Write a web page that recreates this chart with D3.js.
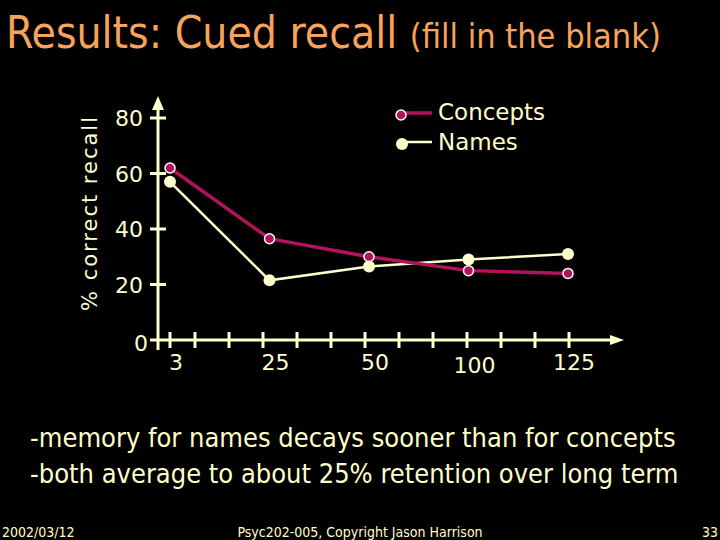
<!DOCTYPE html>
<html><head><meta charset="utf-8">
<script src="https://cdn.jsdelivr.net/npm/d3@7"></script>
<style>body{margin:0;background:#000}</style>
</head><body>
<div id="chart"></div>
<script>
var W = 720, H = 540
var categories = ["3", "25", "50", "100", "125"]
var concepts = [62, 36.5, 30, 25, 24]
var names = [57, 21.5, 26.5, 29, 31]
var yTicks = [20, 40, 60, 80]
var cream = "#ffffcc", red = "#b3125c", orange = "#f7a35a"

var svg = d3.select("#chart").append("svg")
    .attr("width", W).attr("height", H)
    .style("background", "#000")

var x = d3.scalePoint().domain(categories).range([170, 568])
var y = d3.scaleLinear().domain([0, 80]).range([340, 118])

// title
var title = svg.append("text").attr("x", 6).attr("y", 48)
    .attr("fill", orange).style("font-family", "DejaVu Sans Condensed")
title.append("tspan").attr("font-size", 44).text("Results: Cued recall ")
title.append("tspan").attr("font-size", 34).text("(fill in the blank)")

// axes
svg.append("line").attr("x1", 158).attr("x2", 158).attr("y1", 108).attr("y2", 350)
    .attr("stroke", cream).attr("stroke-width", 3)
svg.append("path").attr("d", "M158,96 L152,110 L164,110 Z").attr("fill", cream)
svg.append("line").attr("x1", 150).attr("x2", 612).attr("y1", y(0)).attr("y2", y(0))
    .attr("stroke", cream).attr("stroke-width", 3)
svg.append("path").attr("d", "M624," + y(0) + " L610," + (y(0) - 5) + " L610," + (y(0) + 5) + " Z").attr("fill", cream)

svg.selectAll(".yt").data(yTicks).enter().append("line")
    .attr("x1", 150).attr("x2", 166).attr("y1", d => y(d)).attr("y2", d => y(d))
    .attr("stroke", cream).attr("stroke-width", 3)
svg.selectAll(".yl").data([0].concat(yTicks)).enter().append("text")
    .attr("x", d => d === 0 ? 148 : 143).attr("y", d => d === 0 ? y(d) + 11 : y(d) + 8)
    .attr("text-anchor", "end").attr("fill", cream)
    .style("font-family", "DejaVu Sans").attr("font-size", 22).text(d => d)

// minor x ticks
var xt = [x("3")].concat(d3.range(13).slice(1).map(i => 195 + (i - 1) * 34))
svg.selectAll(".xt").data(xt).enter().append("line")
    .attr("x1", d => d).attr("x2", d => d).attr("y1", y(0) - 8).attr("y2", y(0) + 8)
    .attr("stroke", cream).attr("stroke-width", 3)
svg.selectAll(".xl").data(categories).enter().append("text")
    .attr("x", d => x(d) + 6).attr("y", (d, i) => i === 3 ? 373 : 370).attr("text-anchor", "middle")
    .attr("fill", cream).style("font-family", "DejaVu Sans").attr("font-size", 22).text(d => d)

svg.append("text").attr("transform", "translate(97,213) rotate(-90)")
    .attr("text-anchor", "middle").attr("fill", cream).attr("letter-spacing", 2)
    .style("font-family", "DejaVu Sans").attr("font-size", 21).text("% correct recall")

// series
var line = d3.line().x((d, i) => x(categories[i])).y(d => y(d))
svg.append("path").datum(names).attr("d", line).attr("fill", "none")
    .attr("stroke", cream).attr("stroke-width", 2.5)
svg.append("path").datum(concepts).attr("d", line).attr("fill", "none")
    .attr("stroke", red).attr("stroke-width", 3.5)
svg.selectAll(".cn").data(concepts).enter().append("circle")
    .attr("cx", (d, i) => x(categories[i])).attr("cy", d => y(d)).attr("r", 5)
    .attr("fill", red).attr("stroke", "#fff").attr("stroke-width", 1.5)
svg.selectAll(".nm").data(names).enter().append("circle")
    .attr("cx", (d, i) => x(categories[i])).attr("cy", d => y(d)).attr("r", 6)
    .attr("fill", cream)

// legend
svg.append("line").attr("x1", 402).attr("x2", 432).attr("y1", 113).attr("y2", 113)
    .attr("stroke", red).attr("stroke-width", 3.5)
svg.append("circle").attr("cx", 401).attr("cy", 115).attr("r", 5).attr("fill", red)
    .attr("stroke", "#fff").attr("stroke-width", 1.5)
svg.append("line").attr("x1", 402).attr("x2", 432).attr("y1", 142).attr("y2", 142)
    .attr("stroke", cream).attr("stroke-width", 2.5)
svg.append("circle").attr("cx", 402).attr("cy", 144).attr("r", 6).attr("fill", cream)
svg.append("text").attr("x", 438).attr("y", 120).attr("fill", cream)
    .style("font-family", "DejaVu Sans").attr("font-size", 23).text("Concepts")
svg.append("text").attr("x", 438).attr("y", 150).attr("fill", cream)
    .style("font-family", "DejaVu Sans").attr("font-size", 23).text("Names")

// notes
var notes = ["-memory for names decays sooner than for concepts",
    "-both average to about 25% retention over long term"]
svg.selectAll(".nt").data(notes).enter().append("text")
    .attr("x", 30).attr("y", (d, i) => 447 + i * 36).attr("fill", cream)
    .style("font-family", "DejaVu Sans Condensed").attr("font-size", 27).text(d => d)

// footer
var foot = svg.append("g").style("font-family", "DejaVu Sans Condensed")
    .attr("font-size", 14).attr("fill", cream)
foot.append("text").attr("x", 2).attr("y", 537).text("2002/03/12")
foot.append("text").attr("x", 360).attr("y", 537).attr("text-anchor", "middle")
    .text("Psyc202-005, Copyright Jason Harrison")
foot.append("text").attr("x", 718).attr("y", 537).attr("text-anchor", "end").text("33")
</script>
</body></html>
